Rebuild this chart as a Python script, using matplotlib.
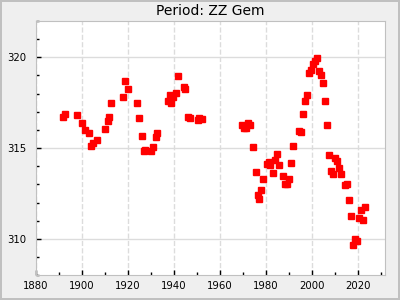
import matplotlib
matplotlib.use('Agg')
import matplotlib.pyplot as plt
from matplotlib.ticker import MultipleLocator

# ZZ Gem period values
years = [1892.0, 1892.9, 1898.1, 1899.9, 1901.6, 1903.3, 1904.2, 1905.1, 1906.8,
         1910.3, 1911.2, 1912.0, 1912.9, 1918.1, 1919.0, 1919.9, 1924.2, 1925.1,
         1926.0, 1926.9, 1927.7, 1930.3, 1931.2, 1932.1, 1932.9, 1937.3, 1938.2,
         1939.0, 1939.9, 1940.8, 1941.7, 1944.3, 1945.1, 1946.0, 1946.9, 1950.4,
         1951.2, 1952.1, 1969.5, 1970.4, 1971.3, 1972.1, 1973.0, 1974.7, 1975.6,
         1976.5, 1976.9, 1977.8, 1978.7, 1980.4, 1981.3, 1982.1, 1983.0, 1983.9,
         1984.8, 1985.6, 1987.4, 1988.2, 1989.1, 1990.0, 1990.9, 1991.7, 1994.3,
         1995.2, 1996.1, 1996.9, 1997.8, 1998.7, 1999.6, 2000.4, 2001.3, 2002.2,
         2003.0, 2003.9, 2004.8, 2005.7, 2006.5, 2007.4, 2008.3, 2009.1, 2010.0,
         2010.9, 2011.8, 2012.6, 2014.4, 2015.2, 2016.1, 2017.0, 2017.9, 2018.7,
         2019.6, 2020.5, 2021.3, 2022.2, 2023.1]
period = [316.69, 316.86, 316.80, 316.36, 315.98, 315.81, 315.12, 315.27, 315.43,
          316.03, 316.47, 316.69, 317.46, 317.84, 318.67, 318.28, 317.51, 316.64,
          315.65, 314.83, 314.88, 314.83, 315.05, 315.59, 315.81, 317.57, 317.95,
          317.46, 317.84, 318.06, 318.99, 318.39, 318.23, 316.69, 316.64, 316.53,
          316.64, 316.58, 316.25, 316.09, 316.09, 316.36, 316.25, 315.05, 313.67,
          312.41, 312.19, 312.68, 313.29, 314.11, 314.22, 314.06, 313.62, 314.33,
          314.66, 314.06, 313.46, 313.02, 313.02, 313.29, 314.17, 315.10, 315.92,
          315.87, 316.86, 317.57, 317.90, 319.16, 319.32, 319.65, 319.82, 319.98,
          319.27, 319.05, 318.61, 317.57, 316.25, 314.61, 313.73, 313.56, 314.44,
          314.28, 313.89, 313.56, 312.96, 313.02, 312.14, 311.26, 309.67, 310.00,
          309.89, 311.15, 311.59, 311.04, 311.75]

fig = plt.figure(figsize=(4, 3), dpi=100, facecolor='#efefef',
                 edgecolor='#c0c0c0', linewidth=1.5)
ax = fig.add_axes([0.0895, 0.0823, 0.8735, 0.8477])
ax.set_facecolor('white')

ax.plot(years, period, 's', color='#ff0000', markersize=4.2, zorder=3)

ax.set_xlim(1880, 2032)
ax.set_ylim(308, 322)
ax.xaxis.set_major_locator(MultipleLocator(20))
ax.xaxis.set_minor_locator(MultipleLocator(10))
ax.yaxis.set_major_locator(MultipleLocator(5))
ax.yaxis.set_minor_locator(MultipleLocator(1))

ax.grid(axis='x', which='major', color='#dcdcdc', linestyle='--', linewidth=1)
ax.grid(axis='y', which='major', color='#dcdcdc', linestyle='-', linewidth=1)
ax.set_axisbelow(True)

ax.tick_params(which='major', direction='in', length=3.6, width=1,
               color='black', labelsize=7.3)
ax.tick_params(which='minor', direction='in', length=2.2, width=1, color='black')
ax.tick_params(axis='x', which='major', pad=4)
ax.tick_params(axis='y', which='major', pad=7)
for s in ax.spines.values():
    s.set_color('#c0c0c0')

ax.set_title('Period: ZZ Gem', fontsize=10, pad=4)

fig.savefig('out.png', dpi=100, facecolor=fig.get_facecolor(),
            edgecolor=fig.get_edgecolor())
